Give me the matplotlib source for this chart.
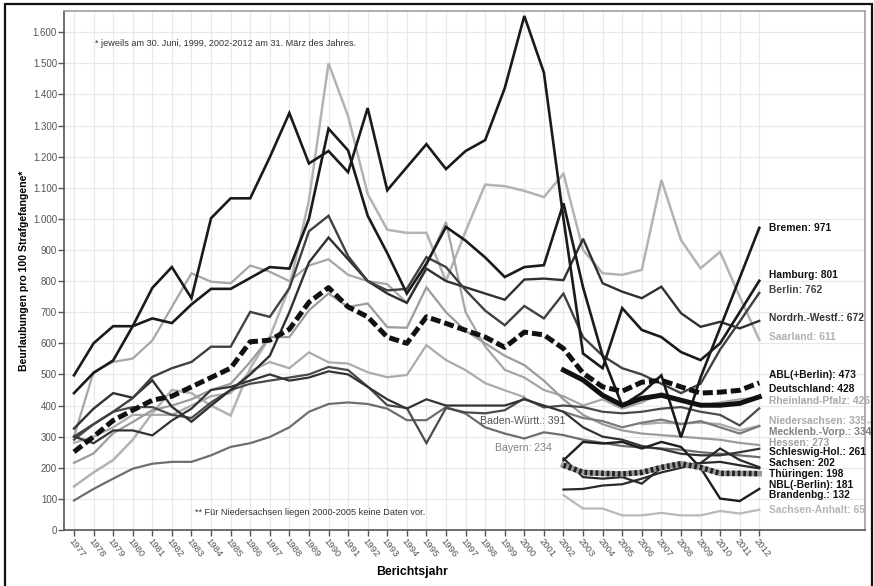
import numpy as np
import matplotlib
matplotlib.use("Agg")
import matplotlib.pyplot as plt
from matplotlib.ticker import FuncFormatter, MultipleLocator
from matplotlib.patches import Rectangle

plt.rcParams["font.family"] = ["Liberation Sans", "DejaVu Sans"]

nan = np.nan
years = list(range(1977, 2013))
years_new = list(range(2002, 2013))

# Beurlaubungen pro 100 Strafgefangene, alte Laender 1977-2012
bremen = [497, 600, 655, 655, 680, 665, 725, 775, 775, 810, 845, 840, 1000, 1290, 1220, 1010, 890, 760,
          856, 974, 930, 876, 813, 845, 851, 1050, 780, 560, 400, 440, 497, 298, 490, 650, 810, 971]
hamburg = [440, 505, 545, 655, 778, 845, 745, 1002, 1066, 1066, 1198, 1340, 1178, 1218, 1150, 1356, 1092, 1166,
           1240, 1160, 1218, 1253, 1420, 1652, 1470, 1000, 567, 520, 713, 643, 620, 572, 546, 600, 700, 801]
berlin = [300, 340, 380, 424, 492, 520, 540, 589, 589, 701, 685, 777, 960, 1010, 880, 800, 770, 775,
          877, 845, 771, 705, 658, 720, 680, 760, 620, 560, 520, 500, 470, 440, 470, 580, 670, 762]
nrw = [326, 390, 440, 425, 481, 396, 348, 400, 450, 500, 560, 700, 860, 940, 870, 800, 760, 730,
       840, 800, 780, 760, 740, 805, 808, 803, 936, 793, 766, 745, 782, 697, 653, 669, 648, 672]
saarland = [140, 185, 225, 290, 375, 450, 440, 400, 368, 520, 620, 781, 1060, 1500, 1330, 1080, 965, 955,
            955, 800, 960, 1110, 1105, 1090, 1070, 1145, 900, 825, 820, 836, 1125, 932, 841, 894, 750, 611]
rlp = [300, 508, 540, 551, 609, 717, 825, 798, 793, 850, 830, 800, 850, 870, 820, 800, 790, 730,
       850, 990, 700, 590, 515, 490, 450, 430, 400, 420, 390, 410, 440, 420, 400, 410, 420, 426]
bw = [290, 340, 380, 395, 395, 370, 360, 410, 450, 470, 480, 490, 500, 524, 514, 461, 401, 392,
      279, 392, 378, 375, 385, 423, 394, 400, 395, 380, 375, 380, 390, 395, 380, 370, 336, 391]
nds = [280, 300, 330, 370, 370, 370, 400, 430, 440, 510, 540, 520, 571, 539, 535, 507, 491, 498,
       594, 546, 514, 472, 449, 427, nan, nan, nan, nan, nan, 340, 345, 342, 345, 340, 320, 335]
hessen = [216, 246, 311, 347, 385, 400, 420, 450, 470, 540, 620, 620, 706, 760, 717, 728, 652, 650,
          780, 700, 640, 600, 560, 530, 480, 420, 370, 340, 320, 310, 305, 300, 295, 290, 280, 273]
sh = [300, 279, 320, 320, 304, 352, 390, 450, 460, 480, 500, 480, 490, 510, 500, 460, 420, 390,
      420, 400, 400, 400, 400, 420, 400, 380, 330, 300, 290, 270, 260, 245, 240, 240, 250, 261]
bayern = [95, 132, 165, 197, 213, 219, 219, 240, 267, 279, 299, 330, 380, 405, 410, 405, 390, 353,
          353, 395, 374, 330, 310, 294, 314, 305, 290, 280, 270, 265, 262, 258, 250, 245, 240, 234]
abl = [251, 300, 352, 385, 417, 430, 460, 490, 520, 605, 610, 645, 732, 779, 717, 685, 620, 600,
       685, 664, 642, 620, 587, 636, 627, 583, 504, 460, 446, 475, 481, 460, 440, 443, 449, 473]

# neue Laender und Bund 2002-2012
deutschland = [514, 482, 433, 401, 423, 433, 417, 401, 401, 407, 428]
nbl = [208, 185, 182, 180, 185, 201, 213, 201, 182, 182, 181]
mv = [380, 360, 350, 330, 345, 355, 340, 350, 330, 310, 334]
sachsen = [130, 132, 143, 147, 165, 185, 200, 215, 262, 225, 202]
thueringen = [230, 170, 165, 170, 149, 200, 208, 215, 219, 208, 198]
brandenburg = [224, 283, 278, 283, 262, 283, 267, 200, 101, 93, 132]
sachsen_anhalt = [112, 69, 69, 47, 47, 55, 47, 47, 61, 53, 65]

# (name, x, values, colour, linewidth, label y)
series = [
    ("Saarland", years, saarland, "#b3b3b3", 1.8, 620),
    ("Rheinland-Pfalz", years, rlp, "#a6a6a6", 1.6, 414),
    ("Niedersachsen", years, nds, "#ababab", 1.6, 350),
    ("Hessen", years, hessen, "#9c9c9c", 1.6, 280),
    ("Sachsen-Anhalt", years_new, sachsen_anhalt, "#b8b8b8", 1.6, 64),
    ("Mecklenb.-Vorp.", years_new, mv, "#7a7a7a", 1.6, 315),
    ("Bayern", years, bayern, "#6e6e6e", 1.6, None),
    ("Baden-Württ.", years, bw, "#4a4a4a", 1.6, None),
    ("Schleswig-Hol.", years, sh, "#333333", 1.6, 251),
    ("Nordrh.-Westf.", years, nrw, "#303030", 1.7, 681),
    ("Berlin", years, berlin, "#404040", 1.7, 771),
    ("Sachsen", years_new, sachsen, "#2a2a2a", 1.6, 215),
    ("Thüringen", years_new, thueringen, "#2a2a2a", 1.6, 180),
    ("Brandenbg.", years_new, brandenburg, "#1e1e1e", 1.7, 112),
    ("Bremen", years, bremen, "#1a1a1a", 1.9, 970),
    ("Hamburg", years, hamburg, "#1a1a1a", 1.9, 819),
]

label_colours = {
    "Saarland": "#b0b0b0", "Rheinland-Pfalz": "#a8a8a8", "Niedersachsen": "#a8a8a8",
    "Hessen": "#a0a0a0", "Sachsen-Anhalt": "#b5b5b5", "Mecklenb.-Vorp.": "#808080",
    "Berlin": "#444444", "Nordrh.-Westf.": "#333333",
}

fig = plt.figure(figsize=(8.74, 5.86), dpi=100)
ax = fig.add_axes([64 / 874, 56 / 586, 801 / 874, 519 / 586])

ax.set_xlim(1976.49, 2017.4)
ax.set_ylim(0, 1668)

# grid: one vertical line per year, one horizontal per 100
ax.set_xticks(years)
ax.yaxis.set_major_locator(MultipleLocator(100))
for yr in years:
    ax.axvline(yr, color="#e8e8e8", linewidth=0.9, zorder=0)
ax.grid(axis="y", color="#e8e8e8", linewidth=0.9, zorder=0)
ax.set_axisbelow(True)

for name, xs, vals, colour, lw, ly in series:
    ax.plot(xs, vals, color=colour, linewidth=lw, solid_joinstyle="miter", zorder=2)

# NBL: dicke gestreifte Linie
ax.plot(years_new, nbl, color="#9a9a9a", linewidth=4.0, zorder=3)
ax.plot(years_new, nbl, color="#222222", linewidth=4.0, dashes=(0.5, 0.5), zorder=3)
# Deutschland und ABL(+Berlin)
ax.plot(years_new, deutschland, color="#111111", linewidth=3.6, zorder=4)
ax.plot(years, abl, color="#111111", linewidth=3.6, dashes=(2.0, 0.8), zorder=4)

label_x = 2012.5
lab_font = dict(fontsize=7.4, fontweight="bold", va="center", ha="left")
for name, xs, vals, colour, lw, ly in series:
    if ly is None:
        continue
    txt = ax.text(label_x, ly, f"{name}: {vals[-1]}",
                  color=label_colours.get(name, "#111111"), **lab_font)
    if name == "Niedersachsen":
        # hochgestellter Fussnotenverweis
        ax.annotate("**", xy=(1, 1), xycoords=txt, xytext=(0.5, -3),
                    textcoords="offset points", fontsize=5.5, color="#a8a8a8",
                    ha="left", va="top")
ax.text(label_x, 498, f"ABL(+Berlin): {abl[-1]}", color="#111111", **lab_font)
ax.text(label_x, 453, f"Deutschland: {deutschland[-1]}", color="#111111", **lab_font)
ax.text(label_x, 144, f"NBL(-Berlin): {nbl[-1]}", color="#111111", **lab_font)

# Baden-Wuerttemberg und Bayern mitten im Diagramm beschriftet
ax.text(1997.75, 349, f"Baden-Württ.: {bw[-1]}", color="#555555",
        fontsize=7.6, va="center", ha="left")
ax.text(1998.5, 265, f"Bayern: {bayern[-1]}", color="#808080",
        fontsize=7.6, va="center", ha="left")

ax.text(1978.05, 1562, "* jeweils am 30. Juni, 1999, 2002-2012 am 31. März des Jahres.",
        fontsize=6.6, color="#333333", va="center")
ax.text(1983.2, 57, "** Für Niedersachsen liegen 2000-2005 keine Daten vor.",
        fontsize=6.6, color="#333333", va="center")

ax.yaxis.set_major_formatter(FuncFormatter(lambda v, _: f"{int(v):,}".replace(",", ".")))
ax.tick_params(axis="y", labelsize=7, colors="#555555", length=4, width=1, pad=1)
ax.tick_params(axis="x", labelsize=6.8, colors="#555555", length=4, width=1, pad=1)
for lab in ax.get_xticklabels():
    lab.set_rotation(-52)
    lab.set_ha("left")
    lab.set_va("top")
    lab.set_rotation_mode("anchor")

for side in ["top", "right"]:
    ax.spines[side].set_color("#a0a0a0")
for side in ["left", "bottom"]:
    ax.spines[side].set_color("#555555")
for sp in ax.spines.values():
    sp.set_linewidth(1.2)

ax.set_ylabel("Beurlaubungen pro 100 Strafgefangene*", fontsize=7.6, fontweight="bold", labelpad=3)
fig.text(412 / 874, 14 / 586, "Berichtsjahr", fontsize=8.8, fontweight="bold",
         ha="center", va="center")

# Rahmen um die Grafik
fig.patches.append(Rectangle((5 / 874, -0.01), 867 / 874, 1.01 - 4 / 586, transform=fig.transFigure,
                             fill=False, edgecolor="#111111", linewidth=1.6))

fig.savefig("out.png", dpi=100)
